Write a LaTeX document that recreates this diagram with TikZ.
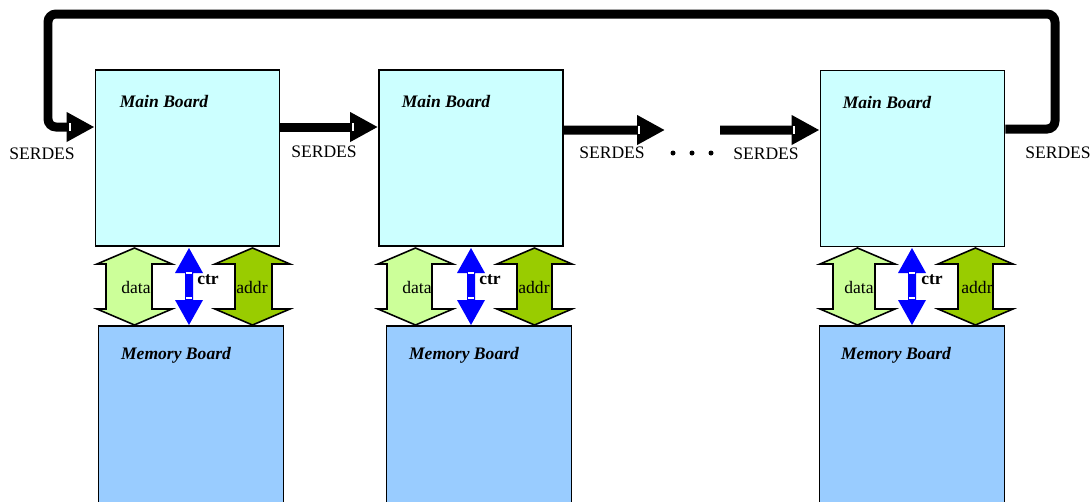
\documentclass[tikz,border=0pt]{standalone}
\usepackage{fontspec}
\setmainfont{Liberation Serif}
\usetikzlibrary{arrows.meta}
\definecolor{mbfill}{HTML}{CCFFFF}
\definecolor{memfill}{HTML}{99CCFF}
\definecolor{datafill}{HTML}{CCFF99}
\definecolor{addrfill}{HTML}{99CC00}
\tikzset{
  mainboard/.style={draw,line width=1.1pt,fill=mbfill,minimum width=3.68cm,minimum height=3.52cm,inner sep=0pt},
  memboard/.style={draw,line width=1.1pt,fill=memfill,minimum width=3.7cm,minimum height=3.88cm,inner sep=0pt},
  title/.style={font=\fontsize{10}{12}\selectfont\bfseries\itshape,inner sep=0pt},
  lbl/.style={font=\fontsize{10}{12}\selectfont,inner sep=0pt},
  serdes/.style={line width=0.18cm,-{Triangle[length=0.56cm,width=0.56cm]}},
  busdata/.style={draw,line width=0.9pt,fill=datafill},
  busaddr/.style={draw,line width=0.9pt,fill=addrfill},
  busctr/.style={fill=blue},
}
% 双向总线箭头: 头左, 杆左, 杆右, 头右, 头长, 样式
\newcommand{\busarrow}[6]{%
  \path[#6] ({(#1+#4)/2},248) -- (#4,248+#5) -- (#3,248+#5) -- (#3,325-#5)
    -- (#4,325-#5) -- ({(#1+#4)/2},325) -- (#1,325-#5) -- (#2,325-#5)
    -- (#2,248+#5) -- (#1,248+#5) -- cycle;}
\begin{document}
\begin{tikzpicture}[x=0.02cm,y=-0.02cm]
  \useasboundingbox (0,0) rectangle (1090,501);
  % 主板
  \node[mainboard] (mb1) at (187.5,158) {};
  \node[mainboard] (mb2) at (471,158) {};
  \node[mainboard] (mb3) at (912.5,158.5) {};
  \node[title] (mbt1) at (164,101) {Main Board};
  \node[title] (mbt2) at (446,101) {Main Board};
  \node[title] (mbt3) at (887,102) {Main Board};
  % 存储板
  \node[memboard] (mem1) at (191,423) {};
  \node[memboard] (mem2) at (479,423) {};
  \node[memboard] (mem3) at (912,423) {};
  \node[title] (memt1) at (176,355) {Memory Board};
  \node[title] (memt2) at (464,355) {Memory Board};
  \node[title] (memt3) at (896,355) {Memory Board};
  % 总线
  \busarrow{97}{106}{152}{172}{16}{busdata}
  \busarrow{175}{185}{193}{203}{25}{busctr}
  \busarrow{215}{235}{272}{290}{16}{busaddr}
  \busarrow{378}{387}{432}{453}{16}{busdata}
  \busarrow{457}{467}{475}{485}{25}{busctr}
  \busarrow{497}{517}{552}{572}{16}{busaddr}
  \busarrow{820}{833}{875}{895}{16}{busdata}
  \busarrow{898}{908}{916}{926}{25}{busctr}
  \busarrow{938}{958}{993}{1013}{16}{busaddr}
  \foreach \c in {189,471,912} {
    \fill[white] (\c-3,272) rectangle (\c+3,274);
    \fill[white] (\c-3,297) rectangle (\c+3,299);
  }
  \node[lbl] (data1) at (136,287) {data};
  \node[lbl] (data2) at (417,287) {data};
  \node[lbl] (data3) at (859,287) {data};
  \node[lbl] (addr1) at (252,287) {addr};
  \node[lbl] (addr2) at (534,287) {addr};
  \node[lbl] (addr3) at (977,287) {addr};
  \node[lbl,font=\fontsize{10}{12}\selectfont\bfseries] (ctr1) at (208,280) {ctr};
  \node[lbl,font=\fontsize{10}{12}\selectfont\bfseries] (ctr2) at (490,280) {ctr};
  \node[lbl,font=\fontsize{10}{12}\selectfont\bfseries] (ctr3) at (932,280) {ctr};
  % SERDES 链路
  \coordinate (gap1) at (665,130);
  \coordinate (gap2) at (720,130);
  \coordinate (loopA) at (1055,14);
  \coordinate (loopB) at (48,127);
  \draw[serdes] ([yshift=0.62cm]mb1.east) -- ([yshift=0.62cm]mb2.west);
  \draw[serdes] ([yshift=0.56cm]mb2.east) -- (gap1);
  \draw[serdes] (gap2) -- ([yshift=0.57cm]mb3.west);
  \draw[serdes,rounded corners=0.16cm] ([yshift=0.59cm]mb3.east) -| (loopA)
    -| (loopB) -- ([yshift=0.62cm]mb1.west);
  \fill[white] (69,123) rectangle (71,131);
  \fill[white] (352,123) rectangle (354,131);
  \fill[white] (638,126) rectangle (640,134);
  \fill[white] (793,126) rectangle (795,134);
  % 标注
  \node[lbl] (s1) at (42,154) {SERDES};
  \node[lbl] (s2) at (324,152) {SERDES};
  \node[lbl] (s3) at (612,153) {SERDES};
  \node[lbl] (s4) at (766,154) {SERDES};
  \node[lbl] (s5) at (1058,153) {SERDES};
  \foreach \d in {673,692,711}
    \fill (\d,153) circle[radius=0.05cm];
\end{tikzpicture}
\end{document}
